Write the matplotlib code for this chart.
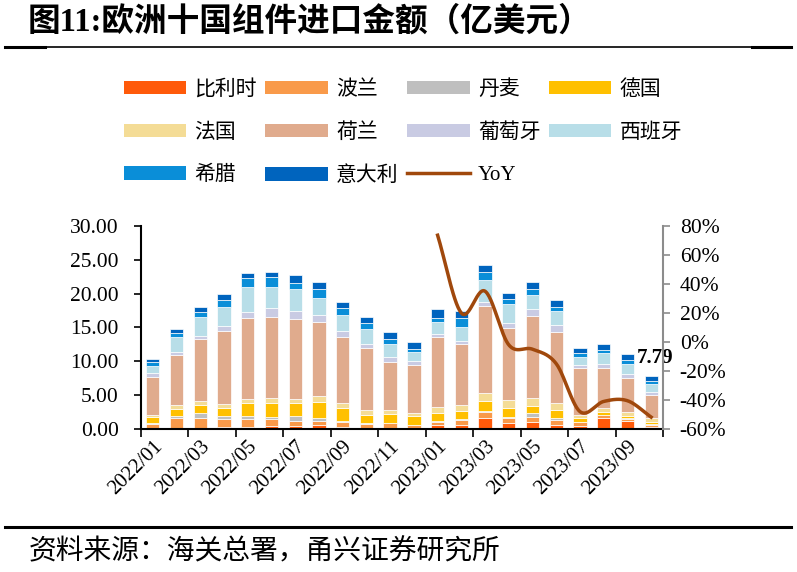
import numpy as np
import matplotlib
matplotlib.use("Agg")
import matplotlib.pyplot as plt
from matplotlib.patches import Patch
from matplotlib.lines import Line2D

plt.rcParams['font.family'] = ['Liberation Serif', 'Noto Sans CJK SC']

months = ["2022/01", "2022/02", "2022/03", "2022/04", "2022/05", "2022/06",
          "2022/07", "2022/08", "2022/09", "2022/10", "2022/11", "2022/12",
          "2023/01", "2023/02", "2023/03", "2023/04", "2023/05", "2023/06",
          "2023/07", "2023/08", "2023/09", "2023/10"]

# stacked from bottom to top, 亿美元
belgium = [0.2, 0.1, 0.1, 0.34, 0.34, 0.49, 0.44, 0.6, 0.25, 0.1, 0.1,
           0.1, 0.6, 0.6, 1.58, 0.94, 1.08, 0.59, 0.49, 1.58, 1.18, 0.34]
poland = [0.6, 1.57, 1.5, 1.18, 1.18, 0.94, 0.79, 0.64, 0.74, 0.6, 0.75,
          0.5, 0.4, 0.74, 0.99, 0.74, 0.74, 0.74, 0.5, 0.44, 0.3, 0.25]
denmark = [0.1, 0.3, 0.78, 0.44, 0.44, 0.39, 0.69, 0.39, 0.25, 0.15, 0.1,
           0.05, 0.2, 0.1, 0.05, 0.1, 0.49, 0.34, 0.1, 0.05, 0.1, 0.1]
germany = [0.8, 1.03, 1.14, 1.14, 1.82, 1.97, 1.87, 2.36, 1.87, 1.23, 1.23,
           1.23, 1.23, 1.23, 1.58, 1.33, 1.08, 1.13, 0.49, 0.39, 0.39, 0.3]
france = [0.4, 0.5, 0.64, 0.59, 0.59, 0.83, 0.69, 0.89, 0.69, 0.69, 0.64,
          0.49, 0.84, 0.89, 1.13, 1.23, 1.13, 0.99, 0.49, 0.59, 0.49, 0.59]
netherlands = [5.6, 7.39, 9.11, 10.74, 12.07, 11.97, 11.82, 10.89, 9.85, 9.26, 7.09,
               7.14, 10.34, 8.97, 12.81, 10.59, 12.17, 10.59, 6.9, 5.91, 5.02, 3.41]
portugal = [0.5, 0.53, 0.44, 0.74, 0.89, 1.33, 1.18, 1.08, 0.84, 0.49, 0.74,
            0.49, 0.39, 0.49, 0.59, 0.74, 0.99, 0.99, 0.49, 0.59, 0.59, 0.49]
spain = [1.1, 2.13, 2.85, 2.91, 3.6, 3.01, 3.15, 2.46, 2.36, 2.32, 1.97,
         1.33, 1.82, 2.12, 3.35, 2.81, 2.12, 2.12, 1.23, 1.63, 1.48, 1.13]
greece = [0.55, 0.59, 0.74, 1.03, 1.33, 1.48, 0.98, 1.38, 1.08, 0.89, 0.64,
          0.49, 0.64, 1.23, 1.08, 0.74, 0.84, 0.49, 0.49, 0.49, 0.64, 0.49]
italy = [0.55, 0.59, 0.69, 0.84, 0.84, 0.83, 1.08, 0.99, 0.84, 0.79, 1.03,
         0.98, 1.23, 1.13, 1.13, 0.89, 1.13, 1.08, 0.74, 0.84, 0.84, 0.69]

# YoY (%) only from 2023/01
yoy_start = 12
yoy = [73.6, 20, 35, -2, -5, -15, -48, -41, -40.5, -51.8]

countries = ["比利时", "波兰", "丹麦", "德国", "法国", "荷兰", "葡萄牙", "西班牙", "希腊", "意大利"]
series = [belgium, poland, denmark, germany, france, netherlands, portugal, spain, greece, italy]
colors = ["#FF5A0A", "#F99A4A", "#BFBFBF", "#FFC000", "#F4DC96",
          "#E0AB8D", "#C9CBE3", "#B8DEE8", "#0A8ED8", "#0064BE"]
line_color = "#A0480C"


def smooth(xs, ys, n=30):
    # catmull-rom through the points, like a smoothed excel line
    xs = np.asarray(xs, float)
    ys = np.asarray(ys, float)
    px = np.concatenate([[2 * xs[0] - xs[1]], xs, [2 * xs[-1] - xs[-2]]])
    py = np.concatenate([[2 * ys[0] - ys[1]], ys, [2 * ys[-1] - ys[-2]]])
    out_x, out_y = [], []
    t = np.linspace(0, 1, n)
    for i in range(1, len(px) - 2):
        for p, out in ((px, out_x), (py, out_y)):
            p0, p1, p2, p3 = p[i - 1], p[i], p[i + 1], p[i + 2]
            out.extend(0.5 * ((2 * p1) + (-p0 + p2) * t
                              + (2 * p0 - 5 * p1 + 4 * p2 - p3) * t ** 2
                              + (-p0 + 3 * p1 - 3 * p2 + p3) * t ** 3))
    return out_x, out_y


fig = plt.figure(figsize=(7.97, 5.72), dpi=100)
ax = fig.add_axes([0.1769, 0.25, 0.655, 0.355])
ax2 = ax.twinx()

x = np.arange(len(months))
bottom = np.zeros(len(months))
for name, vals, c in zip(countries, series, colors):
    ax.bar(x, vals, 0.56, bottom=bottom, color=c, edgecolor="white", linewidth=0.5, zorder=2)
    bottom += np.array(vals)

ax.annotate(f"{bottom[-1]:.2f}", (x[-1], bottom[-1]), xytext=(3, 13), textcoords="offset points",
            ha="center", va="center", fontsize=15, fontweight="bold")

lx, ly = smooth(x[yoy_start:], yoy)
ax2.plot(lx, ly, color=line_color, lw=2.5, zorder=3)

ax.set_xlim(-0.5, len(months) - 0.5)
ax.set_ylim(0, 30)
ax.set_yticks(np.arange(0, 31, 5))
ax.set_yticklabels([f"{v:.2f}" for v in np.arange(0, 31, 5)])
ax2.set_ylim(-60, 80)
ax2.set_yticks(np.arange(-60, 81, 20))
ax2.set_yticklabels([f"{v}%" for v in range(-60, 81, 20)])

ax.set_xticks(np.arange(-0.5, len(months), 2))
ax.set_xticklabels([])
ax.set_xticks(x[::2], minor=True)
ax.set_xticklabels(months[::2], minor=True, rotation=45, ha="right", rotation_mode="anchor")
ax.tick_params(axis="x", which="minor", length=0, labelsize=15, pad=6)
ax.tick_params(axis="x", which="major", length=6, width=1.2, direction="out")
ax.tick_params(axis="y", labelsize=15.5, length=5, width=1.2, pad=11)
ax2.tick_params(axis="y", labelsize=15.5, length=5, width=1.2, colors="#8C8C8C", labelcolor="black", pad=7)

for a in (ax, ax2):
    a.spines["top"].set_visible(False)
ax.spines["right"].set_visible(False)
ax.spines["left"].set_linewidth(1.5)
ax.spines["bottom"].set_linewidth(1.5)
ax2.spines["left"].set_visible(False)
ax2.spines["bottom"].set_visible(False)
ax2.spines["right"].set_color("#8C8C8C")
ax2.spines["right"].set_linewidth(1.5)
ax2.set_zorder(ax.get_zorder() + 1)
ax2.patch.set_visible(False)

# legend laid out row by row like the original (matplotlib fills columns)
handles = [Patch(facecolor=c, edgecolor="none") for c in colors]
handles.append(Line2D([], [], color=line_color, lw=2.5))
labels = countries + ["YoY"]
order = [0, 4, 8, 1, 5, 9, 2, 6, 10, 3, 7]
fig.legend([handles[i] for i in order], [labels[i] for i in order], ncol=4,
           loc="upper left", bbox_to_anchor=(0.155, 0.86), frameon=False,
           fontsize=15, handlelength=3.0, handleheight=0.6, handletextpad=0.4,
           columnspacing=0.4, labelspacing=1.12, borderaxespad=0, borderpad=0)

fig.text(0.035, 0.962, "图11:欧洲十国组件进口金额（亿美元）", fontsize=23.5, fontweight="bold",
         va="center", ha="left")
fig.add_artist(Line2D([0.006, 0.992], [0.918, 0.918], color="black", lw=1.2))
fig.add_artist(Line2D([0.006, 0.057], [0.918, 0.918], color="black", lw=2.2))
fig.add_artist(Line2D([0.944, 0.992], [0.918, 0.918], color="black", lw=2.2))
fig.add_artist(Line2D([0.006, 0.992], [0.079, 0.079], color="black", lw=2.2))
fig.text(0.036, 0.035, "资料来源：海关总署，甬兴证券研究所", fontsize=20, style="italic",
         va="center", ha="left")

fig.savefig("out.png", dpi=100)
